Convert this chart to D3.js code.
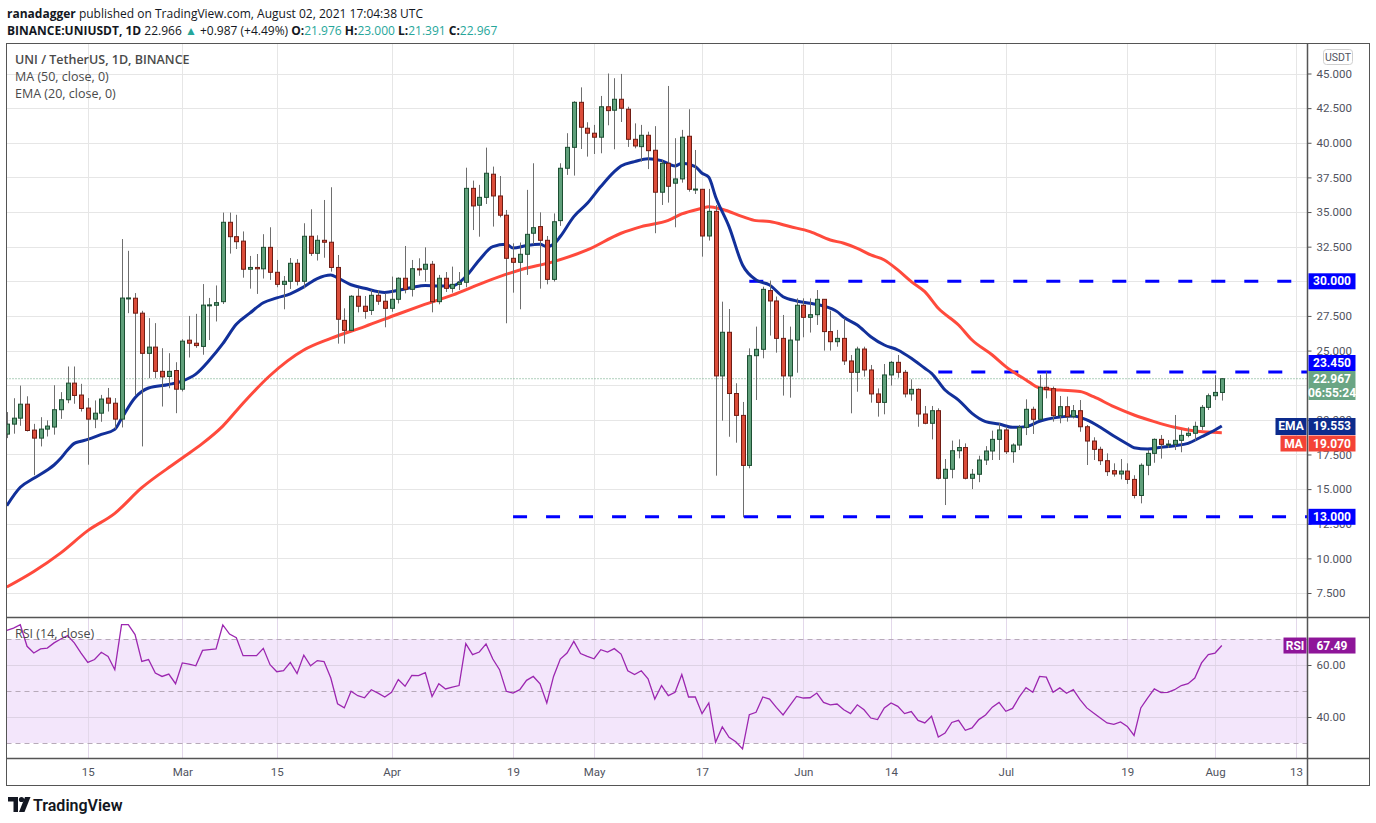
<!DOCTYPE html>
<html>
<head>
<meta charset="utf-8">
<script src="https://cdn.jsdelivr.net/npm/d3@7"></script>
<style>
body { margin: 0; background: #fff; }
svg { display: block; font-family: "Open Sans", sans-serif; }
</style>
</head>
<body>
<svg id="chart" width="1376" height="823"></svg>
<script>
// daily candles, first one is 2021-02-03, one per day up to 2021-08-02
const firstDay = "2021-02-03";
const opens = [
  18.97,19.69,20.12,21.13,19.26,18.68,19.33,19.48,20.73,21.45,22.65,21.79,20.85,20.05,20.48,21.57,21.20,20.05,28.75,28.78,27.70,24.80,25.25,23.50,23.13,23.56,
  22.21,25.75,25.53,25.30,28.28,28.27,28.53,34.26,33.22,32.90,30.87,31.00,30.90,32.45,30.65,29.78,30.00,31.30,30.00,33.25,32.02,32.96,32.82,31.00,27.18,26.46,28.92,28.20,27.90,28.99,28.56,
  28.05,28.70,30.22,29.42,30.90,30.87,31.23,28.53,30.22,29.49,29.78,29.93,36.71,35.49,36.06,37.73,36.16,34.77,31.66,31.37,31.95,33.47,33.95,32.96,30.14,34.38,38.16,39.67,42.92,41.05,
  40.69,40.40,42.60,42.35,43.14,42.42,40.25,39.72,40.54,39.46,36.43,38.52,37.08,37.39,40.47,36.64,36.64,33.27,35.05,23.17,26.32,21.90,20.32,16.71,24.63,25.09,29.33,28.58,25.88,23.17,25.76,
  28.27,27.40,27.59,28.70,26.37,25.64,25.88,24.25,23.43,25.11,23.60,21.87,21.26,23.24,24.15,23.43,21.87,22.20,20.42,19.75,20.66,15.78,16.43,17.77,18.00,15.78,16.07,17.10,17.75,18.59,
  19.27,17.70,18.18,19.46,20.76,20.04,22.35,22.25,20.30,20.95,20.23,20.66,19.50,18.47,17.87,17.05,16.33,16.09,16.30,15.70,14.54,16.72,17.58,18.59,18.23,18.23,18.52,18.88,19.03,19.53,20.90,
  21.74,21.976
];
const highs = [
  20.56,21.56,22.47,21.70,19.71,20.19,19.96,22.50,22.00,23.85,23.85,22.60,21.57,21.40,21.80,22.30,21.57,33.05,32.20,29.15,27.87,27.34,26.98,25.17,24.81,24.16,
  25.82,27.50,27.65,29.80,28.80,29.70,34.96,34.96,34.80,33.60,31.83,31.97,33.40,33.90,31.54,30.38,31.68,31.60,34.19,35.20,33.32,35.87,36.79,31.90,28.05,29.00,29.50,28.94,29.37,29.37,29.13,
  30.34,30.29,32.55,31.54,31.66,32.45,31.47,30.46,30.67,31.06,30.67,38.20,37.27,36.96,39.65,38.28,37.60,35.15,32.74,32.80,36.60,38.52,34.98,33.27,34.90,38.52,40.69,43.00,44.00,41.48,
  41.29,43.38,45.00,44.66,44.97,42.60,41.40,41.29,40.80,41.20,38.76,44.10,40.33,40.93,42.42,39.48,36.67,36.67,35.50,28.53,28.00,22.64,21.29,25.16,26.73,29.61,30.05,28.90,27.57,26.73,28.77,
  28.77,28.77,29.37,28.70,27.88,26.49,27.33,24.68,25.28,25.28,23.96,22.27,24.03,24.25,24.68,23.60,22.92,22.27,21.00,21.00,20.83,17.17,18.50,18.59,18.30,16.45,17.41,18.10,19.22,19.75,
  19.50,18.30,19.63,21.48,20.95,23.24,23.48,22.40,21.72,21.68,21.07,21.43,19.63,18.74,18.06,17.58,16.86,17.17,16.86,16.00,16.86,17.82,18.66,18.90,18.54,20.35,19.27,19.46,19.87,21.07,21.90,
  23.22,23.000
];
const lows = [
  18.68,19.00,19.57,19.16,16.00,18.08,18.80,18.93,20.07,21.20,21.16,20.60,16.76,19.40,19.86,20.60,19.33,19.45,27.70,21.80,18.08,23.00,23.00,20.96,22.28,20.48,
  22.05,24.50,25.20,24.70,25.76,27.10,28.36,32.00,32.33,30.26,29.47,29.09,30.20,30.10,29.57,27.98,29.45,29.70,29.50,31.83,31.50,31.70,30.70,25.50,25.50,26.40,27.76,27.30,27.57,28.30,26.68,
  27.80,28.40,29.13,28.90,30.40,29.97,27.76,28.34,29.23,29.18,29.37,29.57,33.70,33.22,35.58,33.95,34.62,26.97,29.18,27.98,30.46,32.67,29.47,29.78,29.98,34.00,37.68,37.63,39.55,39.00,
  39.19,39.24,41.26,39.53,41.50,39.70,39.60,38.64,38.10,33.47,35.51,35.68,33.90,37.12,36.47,36.30,31.78,32.94,15.97,19.94,18.78,18.35,12.96,16.50,21.43,24.44,26.08,24.85,21.75,21.60,23.40,
  25.96,26.30,26.85,25.00,25.00,25.28,23.96,20.47,22.03,23.12,21.24,20.23,20.40,22.47,23.04,21.62,21.38,19.50,19.68,18.59,15.70,13.85,15.78,17.22,15.70,15.00,15.50,16.74,17.10,17.10,
  17.53,16.90,17.82,18.90,18.98,19.99,21.55,19.87,19.75,19.87,20.10,19.14,16.74,17.10,16.74,15.95,15.90,15.70,15.37,14.33,13.97,16.00,16.90,17.20,17.97,17.82,17.66,18.74,18.50,19.27,20.71,
  21.43,21.391
];
const closes = [
  19.69,20.12,21.13,19.23,18.68,19.33,19.55,20.73,21.45,22.65,21.76,20.82,20.05,20.48,21.50,21.20,20.05,28.79,28.80,27.70,24.80,25.25,23.50,23.10,23.50,22.21,
  25.68,25.53,25.36,28.28,28.30,28.46,34.26,33.22,32.86,30.87,31.00,30.90,32.45,30.65,29.78,30.00,31.30,30.00,33.25,32.02,32.96,32.82,31.00,27.26,26.46,28.92,28.20,27.83,28.99,28.56,28.05,
  28.70,30.22,29.42,30.91,30.85,31.23,28.53,30.22,29.49,29.78,29.93,36.71,35.44,36.06,37.80,36.16,34.77,31.66,31.37,31.95,33.39,33.87,32.96,30.14,34.30,38.16,39.67,42.92,41.12,40.69,
  40.40,42.60,42.32,43.14,42.49,40.25,39.77,40.54,39.43,36.43,38.52,36.86,37.39,40.40,36.64,36.66,33.27,35.05,23.17,26.32,21.90,20.32,16.71,24.63,25.09,29.42,28.58,25.88,23.17,25.76,28.27,
  27.40,27.59,28.70,26.37,25.64,25.88,24.25,23.43,25.11,23.60,21.87,21.26,23.24,24.15,23.43,21.87,22.20,20.42,19.75,20.66,15.78,16.43,17.77,18.00,15.78,16.07,17.10,17.75,18.59,19.27,
  17.70,18.18,19.46,20.76,20.04,22.35,22.20,20.30,20.95,20.23,20.66,19.50,18.47,17.87,17.05,16.26,16.09,16.30,15.70,14.54,16.72,17.58,18.59,18.23,18.25,18.52,18.88,19.03,19.53,20.90,21.74,
  21.98,22.967
];
const rsiValues = [
  73.3,74.2,75.5,67.2,64.6,66.2,66.5,68.5,70.0,71.3,68.5,64.6,61.0,62.1,64.9,63.3,58.2,75.5,75.5,71.7,61.4,62.1,56.9,55.6,56.5,52.8,
  60.8,60.3,59.7,65.6,65.9,66.2,75.4,71.9,70.5,63.6,63.6,63.6,66.4,60.1,57.4,57.8,61.0,56.7,63.8,59.7,61.7,61.3,55.0,45.1,43.5,49.9,48.2,47.4,50.5,49.2,47.7,
  49.5,54.4,51.8,56.0,55.9,57.1,47.9,52.8,50.8,51.5,52.1,68.2,64.0,65.0,68.1,62.3,58.2,49.9,49.2,50.5,54.1,55.6,52.8,45.4,55.6,62.3,64.6,69.1,64.4,63.3,
  62.4,65.9,65.0,66.3,64.2,57.8,56.3,57.8,54.7,46.9,52.1,48.2,49.5,56.3,47.7,47.7,41.3,45.4,30.3,36.2,32.2,30.5,27.7,40.9,41.8,47.7,46.9,43.7,40.8,44.4,47.9,
  47.3,47.4,49.2,45.6,44.7,45.0,42.8,41.3,44.7,42.8,39.6,39.0,43.5,45.4,44.1,41.3,42.1,38.7,37.7,40.3,32.3,33.8,37.9,38.7,34.9,35.8,39.0,40.8,43.8,45.6,
  42.2,43.3,47.7,51.3,49.5,55.6,55.3,49.5,51.2,49.1,50.5,46.7,43.5,41.5,39.6,37.7,37.2,38.1,36.4,32.9,43.5,47.3,50.8,49.4,49.5,50.5,52.1,52.8,55.0,60.8,64.0,
  64.6,67.49
];

// moving averages at sample days
const emaDays = ["02-03","02-05","02-07","02-09","02-10","02-11","02-12","02-13","02-14","02-15","02-17","02-19","02-20","02-22","02-24","02-27","03-01","03-03","03-05","03-07","03-09","03-11","03-13","03-15","03-17","03-19","03-21","03-23","03-24","03-26","03-28","03-31",
  "04-02","04-04","04-06","04-08","04-10","04-12","04-14","04-16","04-18","04-19","04-21","04-23","04-24","04-25","04-26","04-28","04-30","05-02","05-04","05-05","05-07","05-09","05-11","05-13","05-14","05-16","05-17","05-18","05-19","05-21","05-23","05-25","05-27","05-29","05-31",
  "06-02","06-04","06-06","06-07","06-09","06-11","06-13","06-15","06-17","06-19","06-20","06-22","06-24","06-26","06-28","06-30","07-02","07-04","07-06","07-09","07-11","07-13","07-15","07-17","07-19","07-20","07-22","07-24","07-26","07-28","07-30","08-01","08-02"];
const emaValues = [13.8,15.13,15.78,16.38,16.74,17.22,17.82,18.3,18.45,18.59,18.95,19.31,20.1,21.6,22.3,22.55,22.8,23.3,24.3,25.5,26.9,27.7,28.45,28.8,29.1,29.6,30.2,30.45,30.25,29.75,29.5,29.2,
  29.35,29.55,29.7,29.66,29.66,30.34,31.54,32.5,32.67,32.4,32.58,32.67,32.5,32.67,33.23,34.67,35.63,36.84,37.92,38.33,38.64,38.85,38.71,38.33,38.52,38.28,37.8,37.51,36.11,33.95,31.18,30.1,29.73,28.89,28.58,
  28.41,28.22,27.81,27.4,26.85,26.0,25.4,25.04,24.44,23.72,23.36,22.15,21.43,20.47,19.87,19.7,19.46,19.51,19.9,20.2,20.28,19.99,19.46,18.83,18.26,17.99,17.9,18.02,18.13,18.3,18.78,19.27,19.553];
const maDays = ["02-03","02-07","02-11","02-15","02-19","02-23","02-28","03-01","03-04","03-07","03-10","03-14","03-19","03-23","03-28","04-02","04-05","04-10","04-15","04-20","04-25","04-30","05-05","05-08","05-12","05-14","05-17","05-18","05-20","05-23","05-25","05-27","05-30",
  "06-02","06-05","06-07","06-09","06-11","06-13","06-15","06-17","06-19","06-21","06-24","06-26","06-29","07-01","07-04","07-06","07-09","07-12","07-14","07-17","07-20","07-23","07-26","07-29","08-02"];
const maValues = [7.93,9.05,10.4,12.0,13.25,15.1,16.9,17.25,18.3,19.55,21.2,23.2,25.04,25.88,26.73,27.64,28.17,29.0,29.98,30.82,31.42,32.26,33.47,33.95,34.4,34.86,35.27,35.39,35.2,34.67,34.38,34.31,33.95,
  33.59,32.98,32.75,32.38,31.9,31.54,30.82,29.98,29.25,28.05,26.85,25.76,24.68,23.84,22.88,22.3,22.15,22.05,21.67,20.95,20.35,19.87,19.46,19.19,19.07];

// horizontal levels drawn by the author
const levelValues = [30, 23.45, 13];
const levelStarts = ["2021-05-24", "2021-06-21", "2021-04-19"];

const priceTicks = d3.range(7.5, 45.01, 2.5);
const rsiTicks = [40, 60];
const timeTicks = ["2021-02-15","2021-03-01","2021-03-15","2021-04-01","2021-04-19","2021-05-01","2021-05-17","2021-06-01","2021-06-14","2021-07-01","2021-07-19","2021-08-01","2021-08-13"];
const timeLabels = ["15","Mar","15","Apr","19","May","17","Jun","14","Jul","19","Aug","13"];

const parseDay = d3.utcParse("%Y-%m-%d");
const start = parseDay(firstDay);
const candles = opens.map((o, i) => ({
  date: d3.utcDay.offset(start, i), o, h: highs[i], l: lows[i], c: closes[i], rsi: rsiValues[i]
}));
const ema = emaDays.map((d, i) => ({ date: parseDay("2021-" + d), value: emaValues[i] }));
const ma = maDays.map((d, i) => ({ date: parseDay("2021-" + d), value: maValues[i] }));

const left = 6.5, axisX = 1307.5, frameRight = 1369.5;
const mainTop = 43.5, mainBottom = 617.5, rsiBottom = 758.5, frameBottom = 785.5;

const x = d3.scaleUtc()
  .domain([parseDay("2021-02-01"), parseDay("2021-08-13")])
  .range([-6.7, 1296.05]);
const y = d3.scaleLinear().domain([7.5, 45]).range([593, 73.5]);
const yr = d3.scaleLinear().domain([30, 70]).range([743, 639]);

const svg = d3.select("#chart");
const defs = svg.append("defs");
defs.append("clipPath").attr("id", "mainClip").append("rect")
  .attr("x", left).attr("y", mainTop).attr("width", axisX - left).attr("height", mainBottom - mainTop);
defs.append("clipPath").attr("id", "rsiClip").append("rect")
  .attr("x", left).attr("y", mainBottom).attr("width", axisX - left).attr("height", rsiBottom - mainBottom);

// header
const head = svg.append("g").attr("font-size", 12).attr("fill", "#131722");
head.append("text").attr("x", 7).attr("y", 17.5)
  .call(t => {
    t.append("tspan").attr("font-weight", 700).text("ranadagger");
    t.append("tspan").text(" published on TradingView.com, August 02, 2021 17:04:38 UTC");
  });
const teal = "#26a69a";
head.append("text").attr("x", 7).attr("y", 34.5)
  .call(t => {
    t.append("tspan").attr("font-weight", 700).text("BINANCE:UNIUSDT, 1D");
    t.append("tspan").text("  22.966 ");
    t.append("tspan").attr("fill", teal).text("▲");
    t.append("tspan").text(" +0.987 (+4.49%) ");
    t.append("tspan").attr("font-weight", 700).text("O:");
    t.append("tspan").attr("fill", teal).text("21.976 ");
    t.append("tspan").attr("font-weight", 700).text("H:");
    t.append("tspan").attr("fill", teal).text("23.000 ");
    t.append("tspan").attr("font-weight", 700).text("L:");
    t.append("tspan").attr("fill", teal).text("21.391 ");
    t.append("tspan").attr("font-weight", 700).text("C:");
    t.append("tspan").attr("fill", teal).text("22.967");
  });

// rsi band
svg.append("rect").attr("x", left).attr("y", yr(70)).attr("width", axisX - left).attr("height", yr(30) - yr(70))
  .attr("fill", "#f3e6fb");

// grid
const grid = svg.append("g").attr("stroke", "#e6e6e6").attr("stroke-width", 1);
grid.selectAll(".hg").data(priceTicks).join("line")
  .attr("x1", left).attr("x2", axisX)
  .attr("y1", d => Math.round(y(d)) + 0.5).attr("y2", d => Math.round(y(d)) + 0.5);
grid.selectAll(".vg").data(timeTicks).join("line")
  .attr("x1", d => Math.round(x(parseDay(d))) + 0.5).attr("x2", d => Math.round(x(parseDay(d))) + 0.5)
  .attr("y1", mainTop).attr("y2", mainBottom);
const rgrid = svg.append("g").attr("stroke", "#e3d8ea").attr("stroke-width", 1);
rgrid.selectAll("line.v").data(timeTicks).join("line")
  .attr("x1", d => Math.round(x(parseDay(d))) + 0.5).attr("x2", d => Math.round(x(parseDay(d))) + 0.5)
  .attr("y1", mainBottom).attr("y2", rsiBottom);
svg.append("g").attr("stroke", "#ddd2e4").selectAll("line").data(rsiTicks).join("line")
  .attr("x1", left).attr("x2", axisX)
  .attr("y1", d => Math.round(yr(d)) + 0.5).attr("y2", d => Math.round(yr(d)) + 0.5);
svg.append("g").attr("stroke", "#b7aab9").attr("stroke-dasharray", "5 4").selectAll("line").data([70, 50, 30]).join("line")
  .attr("x1", left).attr("x2", axisX)
  .attr("y1", d => Math.round(yr(d)) + 0.5).attr("y2", d => Math.round(yr(d)) + 0.5);

// main pane content
const main = svg.append("g").attr("clip-path", "url(#mainClip)");

main.selectAll(".level").data(levelValues).join("line")
  .attr("x1", (d, i) => x(parseDay(levelStarts[i]))).attr("x2", axisX)
  .attr("y1", d => y(d)).attr("y2", d => y(d))
  .attr("stroke", "#0000ff").attr("stroke-width", 3).attr("stroke-dasharray", "14 19");

const lastClose = closes[closes.length - 1];
main.append("line").attr("x1", left).attr("x2", axisX)
  .attr("y1", y(lastClose)).attr("y2", y(lastClose))
  .attr("stroke", "#5f9f7a").attr("stroke-dasharray", "1 2");

const line = d3.line().x(d => x(d.date)).y(d => y(d.value)).curve(d3.curveMonotoneX);
main.append("path").datum(ma).attr("d", line)
  .attr("fill", "none").attr("stroke", "#ff4a3c").attr("stroke-width", 3).attr("stroke-linejoin", "round");
main.append("path").datum(ema).attr("d", line)
  .attr("fill", "none").attr("stroke", "#12309a").attr("stroke-width", 3).attr("stroke-linejoin", "round");

const cg = main.selectAll(".candle").data(candles).join("g");
cg.append("line")
  .attr("x1", d => Math.round(x(d.date)) + 0.5).attr("x2", d => Math.round(x(d.date)) + 0.5)
  .attr("y1", d => y(d.h)).attr("y2", d => y(d.l))
  .attr("stroke", "#6e6e6e").attr("stroke-width", 1);
cg.append("rect")
  .attr("x", d => Math.round(x(d.date)) + 0.5 - 2)
  .attr("width", 4)
  .attr("y", d => y(Math.max(d.o, d.c)))
  .attr("height", d => Math.max(1, Math.abs(y(d.o) - y(d.c))))
  .attr("fill", d => d.c >= d.o ? "#5f9f7a" : "#db4d3a")
  .attr("stroke", d => d.c >= d.o ? "#1c4f32" : "#701c13")
  .attr("stroke-width", 1);

// rsi line
const rline = d3.line().x(d => x(d.date)).y(d => yr(d.rsi));
svg.append("g").attr("clip-path", "url(#rsiClip)")
  .append("path").datum(candles).attr("d", rline)
  .attr("fill", "none").attr("stroke", "#9c27b0").attr("stroke-width", 1.3);

// legends
const leg = svg.append("g").attr("font-size", 12.5).attr("fill", "#4a4a4a");
leg.append("text").attr("x", 15).attr("y", 64).attr("font-weight", 600).text("UNI / TetherUS, 1D, BINANCE");
leg.append("text").attr("x", 15).attr("y", 81).text("MA (50, close, 0)");
leg.append("text").attr("x", 15).attr("y", 98).text("EMA (20, close, 0)");
leg.append("text").attr("x", 15).attr("y", 638).text("RSI (14, close)");

// frame and separators
svg.append("rect").attr("x", left).attr("y", mainTop).attr("width", frameRight - left).attr("height", frameBottom - mainTop)
  .attr("fill", "none").attr("stroke", "#555").attr("stroke-width", 1);
svg.append("g").attr("stroke", "#555").attr("stroke-width", 1.5)
  .call(g => {
    g.append("line").attr("x1", left).attr("x2", frameRight).attr("y1", mainBottom).attr("y2", mainBottom);
    g.append("line").attr("x1", left).attr("x2", frameRight).attr("y1", rsiBottom).attr("y2", rsiBottom);
    g.append("line").attr("x1", axisX).attr("x2", axisX).attr("y1", mainTop).attr("y2", frameBottom);
  });

// badges on the price axis: centre y, height
const fmt3 = d3.format(".3f");
const badges = [
  { cy: y(30), h: 16, fill: "#0000ff", lines: [fmt3(30)] },
  { cy: 363, h: 16, fill: "#0000ff", lines: [fmt3(23.45)] },
  { cy: 385.5, h: 29, fill: "#6aa584", lines: [fmt3(lastClose), "06:55:24"] },
  { cy: 426.5, h: 17, fill: "#0d2b8c", lines: [fmt3(emaValues[emaValues.length - 1])], tag: { text: "EMA", w: 31 } },
  { cy: 443.5, h: 16, fill: "#f44336", lines: [fmt3(maValues[maValues.length - 1])], tag: { text: "MA", w: 26 } },
  { cy: y(13), h: 16, fill: "#0000ff", lines: [fmt3(13)] },
  { cy: yr(rsiValues[rsiValues.length - 1]), h: 16, fill: "#8e1599", lines: [d3.format(".2f")(rsiValues[rsiValues.length - 1])], tag: { text: "RSI", w: 23 } }
];

// axes; tick labels fully covered by a badge are left out, as on the original
const covered = v => badges.some(b => Math.abs(y(v) - b.cy) < b.h / 2 - 2);
const axisFont = "Roboto, sans-serif";
const pAxis = svg.append("g").attr("transform", `translate(${axisX},0)`)
  .call(d3.axisRight(y).tickValues(priceTicks.filter(v => !covered(v))).tickFormat(fmt3).tickSize(4).tickPadding(5));
pAxis.select(".domain").remove();
pAxis.selectAll("line").attr("stroke", "#555");
pAxis.selectAll("text").attr("font-family", axisFont).attr("font-size", 11.5).attr("fill", "#50535e");

const rAxis = svg.append("g").attr("transform", `translate(${axisX},0)`)
  .call(d3.axisRight(yr).tickValues(rsiTicks).tickFormat(d3.format(".2f")).tickSize(4).tickPadding(5));
rAxis.select(".domain").remove();
rAxis.selectAll("line").attr("stroke", "#555");
rAxis.selectAll("text").attr("font-family", axisFont).attr("font-size", 11.5).attr("fill", "#50535e");

const tAxis = svg.append("g").attr("transform", `translate(0,${rsiBottom})`)
  .call(d3.axisBottom(x).tickValues(timeTicks.map(parseDay)).tickFormat((d, i) => timeLabels[i]).tickSize(0).tickPadding(9));
tAxis.select(".domain").remove();
tAxis.selectAll("text").attr("font-family", axisFont).attr("font-size", 11.5).attr("fill", "#50535e");

// USDT badge
svg.append("rect").attr("x", 1323.5).attr("y", 49.5).attr("width", 29).attr("height", 15).attr("rx", 3)
  .attr("fill", "#fff").attr("stroke", "#cfcfcf");
svg.append("text").attr("x", 1338).attr("y", 61).attr("text-anchor", "middle")
  .attr("font-family", axisFont).attr("font-size", 10.5).attr("fill", "#50535e").text("USDT");

badges.forEach(b => {
  const g = svg.append("g").attr("font-family", axisFont).attr("font-weight", 700).attr("font-size", 12).attr("fill", "#fff");
  g.append("rect").attr("x", axisX + 1).attr("y", b.cy - b.h / 2).attr("width", 47).attr("height", b.h).attr("fill", b.fill);
  b.lines.forEach((s, i) => g.append("text").attr("x", axisX + 24.5).attr("y", b.cy - b.h / 2 + 12 + i * 13.5)
    .attr("text-anchor", "middle").text(s));
  if (b.tag) {
    g.append("rect").attr("x", axisX - b.tag.w - 1).attr("y", b.cy - b.h / 2).attr("width", b.tag.w).attr("height", b.h).attr("fill", b.fill);
    g.append("text").attr("x", axisX - 1 - b.tag.w / 2).attr("y", b.cy - b.h / 2 + 12).attr("text-anchor", "middle").text(b.tag.text);
  }
});

// footer logo
const logo = svg.append("g").attr("fill", "#131722");
logo.append("path").attr("d", "M8 797 h10 v15 h-4.5 v-10.5 h-5.5 z");
logo.append("circle").attr("cx", 21.5).attr("cy", 799.5).attr("r", 2.6);
logo.append("path").attr("d", "M25 797 h5.5 l-6 15 h-5.5 z");
logo.append("text").attr("x", 33).attr("y", 810.5).attr("font-family", axisFont)
  .attr("font-size", 16).attr("font-weight", 600).text("TradingView");
</script>
</body>
</html>
